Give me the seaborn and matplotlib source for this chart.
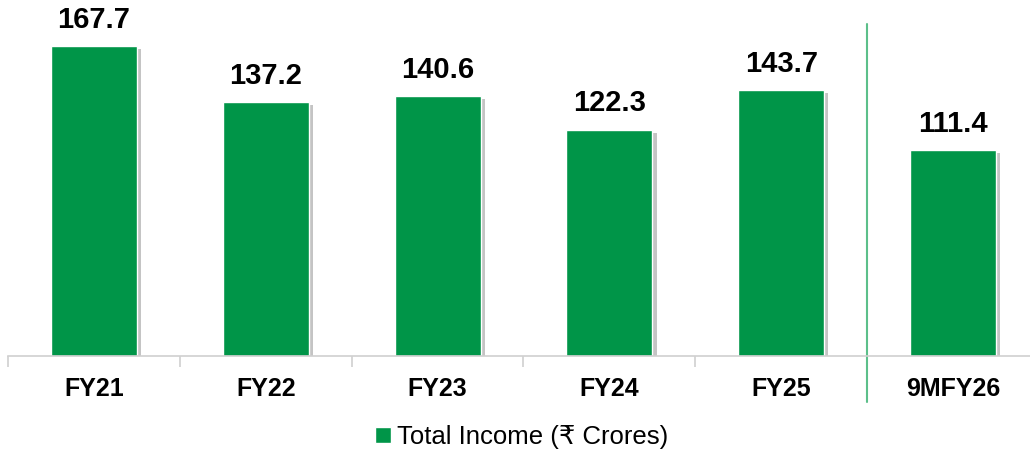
import matplotlib
matplotlib.use("Agg")
import matplotlib.pyplot as plt
import matplotlib.patheffects as pe
import seaborn as sns
import pandas as pd

categories = ["FY21", "FY22", "FY23", "FY24", "FY25", "9MFY26"]
values = [167.7, 137.2, 140.6, 122.3, 143.7, 111.4]
series_label = "Total Income (\u20b9 Crores)"

sns.set_style("white")
plt.rcParams['font.family'] = ['Liberation Sans', 'DejaVu Sans']

W, H = 1030, 455
fig = plt.figure(figsize=(W / 100, H / 100), dpi=100)
ax_left, ax_right = 8, 1039
ax_bottom_px, ax_top_px = 356, 0
ax = fig.add_axes([ax_left / W, (H - ax_bottom_px) / H,
                   (ax_right - ax_left) / W, (ax_bottom_px - ax_top_px) / H])

df = pd.DataFrame({"cat": categories, "val": values})
sns.barplot(data=df, x="cat", y="val", color="#009548", saturation=1,
            width=0.5, ax=ax, label=series_label)

for p in ax.patches:
    p.set_path_effects([pe.SimplePatchShadow(offset=(3, -2), shadow_rgbFace="#8a8a8a", alpha=0.5),
                        pe.Normal()])

ax.set_ylim(0, 356 / (310 / 167.7))
ax.set_xlim(-0.5, 5.5)

for i, v in enumerate(values):
    ax.annotate(f"{v:.1f}", (i, v), xytext=(0, 9), textcoords="offset points",
                ha="center", va="bottom", fontsize=21, fontweight="bold", color="#000000")

for s in ["top", "right", "left"]:
    ax.spines[s].set_visible(False)
ax.spines["bottom"].set_color("#d0d0d0")
ax.spines["bottom"].set_linewidth(1.2)
ax.set_yticks([])
ax.set_xlabel("")
ax.set_ylabel("")
ax.set_xticks(range(len(categories)))
ax.set_xticklabels(categories, fontsize=18, fontweight="bold", color="#000000")
ax.tick_params(axis="x", which="major", length=0, pad=15)
ax.set_xticks([i - 0.5 for i in range(len(categories) + 1)], minor=True)
ax.tick_params(axis="x", which="minor", bottom=True, length=8, color="#d0d0d0",
               width=1.2, direction="out")

ax.axvline(4.5, ymin=(356 - 402) / 356, ymax=(356 - 24) / 356, color="#5cbf8a",
           linewidth=1.5, clip_on=False)

leg = ax.legend(loc="center", bbox_to_anchor=(522 / W, (H - 437) / H),
                bbox_transform=fig.transFigure, frameon=False, fontsize=18.5,
                handlelength=0.6, handleheight=0.6, handletextpad=0.25)
for t in leg.get_texts():
    t.set_color("#000000")
for h in leg.legend_handles:
    h.set_path_effects([])

fig.savefig("out.png", dpi=100)
